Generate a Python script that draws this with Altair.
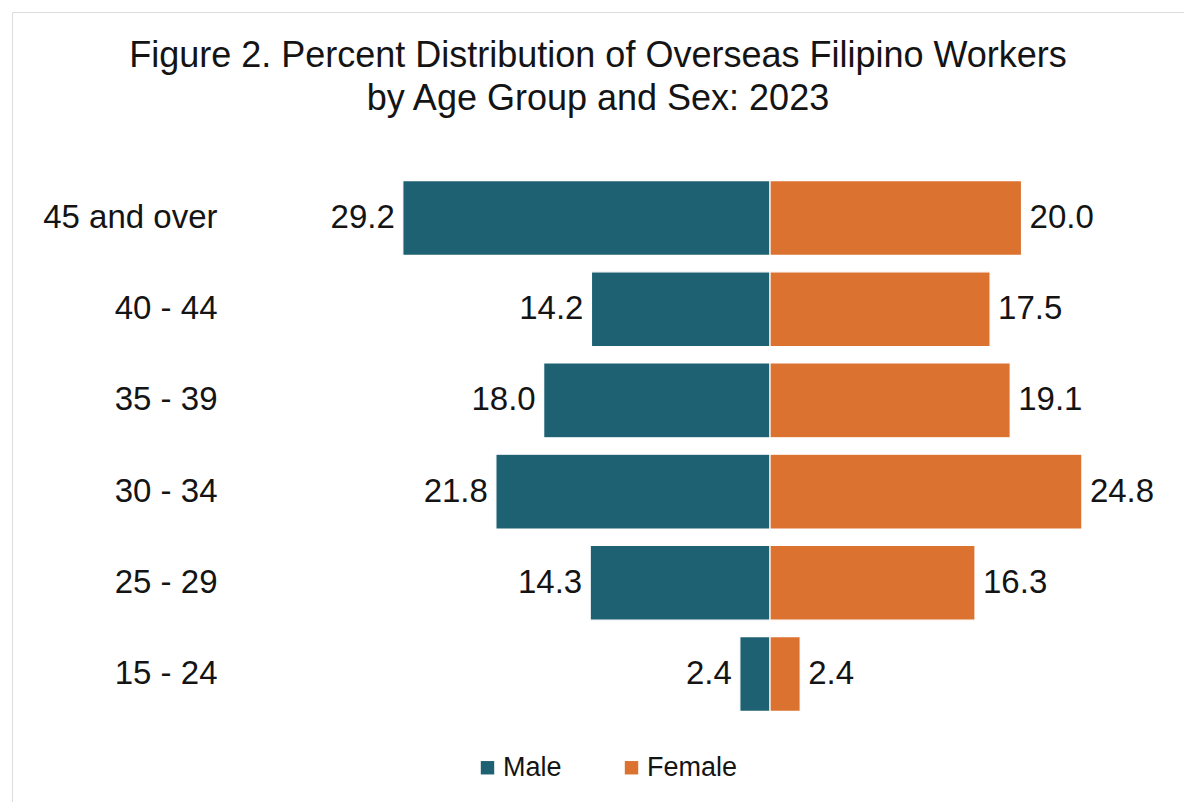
import altair as alt
import pandas as pd

age_groups = ["45 and over", "40 - 44", "35 - 39", "30 - 34", "25 - 29", "15 - 24"]
male = [29.2, 14.2, 18.0, 21.8, 14.3, 2.4]
female = [20.0, 17.5, 19.1, 24.8, 16.3, 2.4]
sexes = ["Male", "Female"]
colors = ["#1e6173", "#dc7230"]

rows = []
for g, m, f in zip(age_groups, male, female):
    rows.append({"age": g, "sex": "Male", "value": -m, "label": f"{m:.1f}"})
    rows.append({"age": g, "sex": "Female", "value": f, "label": f"{f:.1f}"})
df = pd.DataFrame(rows)

FONT = "Liberation Sans"
INK = "#141414"

x_scale = alt.Scale(domain=[-60.28, 32.92], nice=False, zero=False)
y_scale = alt.Scale(domain=age_groups, range=[160.4, 707.6], paddingInner=0.18, paddingOuter=0.09)

base = alt.Chart(df)

bars = base.mark_bar(stroke="white", strokeWidth=1.2).encode(
    x=alt.X("value:Q", scale=x_scale, axis=None),
    y=alt.Y("age:N", scale=y_scale, sort=age_groups,
            axis=alt.Axis(title=None, domain=False, ticks=False, grid=False,
                          labelPadding=0, offset=-205, labelFontSize=33,
                          labelFont=FONT, labelColor=INK, labelAlign="right")),
    color=alt.Color("sex:N", scale=alt.Scale(domain=sexes, range=colors),
                    legend=alt.Legend(title=None, orient="none", legendX=462, legendY=742,
                                      direction="horizontal", symbolType="square",
                                      symbolSize=180, symbolStrokeWidth=0,
                                      labelFontSize=27, labelFont=FONT, labelColor=INK,
                                      columnPadding=56, symbolOffset=0, labelOffset=2)),
)

male_text = base.transform_filter(alt.datum.sex == "Male").mark_text(
    align="right", baseline="middle", dx=-8, fontSize=33, font=FONT, color=INK
).encode(x=alt.X("value:Q", scale=x_scale), y=alt.Y("age:N", scale=y_scale, sort=age_groups),
         text="label:N")

female_text = base.transform_filter(alt.datum.sex == "Female").mark_text(
    align="left", baseline="middle", dx=8, fontSize=33, font=FONT, color=INK
).encode(x=alt.X("value:Q", scale=x_scale), y=alt.Y("age:N", scale=y_scale, sort=age_groups),
         text="label:N")

chart = alt.layer(bars, male_text, female_text).properties(
    width=1172,
    height=790,
    autosize=alt.AutoSizeParams(type="none"),
    padding={"left": 4, "top": 4, "right": 0, "bottom": 0},
    title=alt.TitleParams(
        text=["Figure 2. Percent Distribution of Overseas Filipino Workers",
              "by Age Group and Sex: 2023"],
        anchor="middle", fontSize=36, font=FONT, fontWeight="normal", color=INK,
        lineHeight=43, offset=0, dy=106, baseline="top", frame="group",
    ),
).configure_view(
    stroke="#7a7a7a", strokeWidth=2.5, fill="white"
).configure(background="white")

chart.save("out.html", embed_options={"renderer": "svg", "actions": False})
